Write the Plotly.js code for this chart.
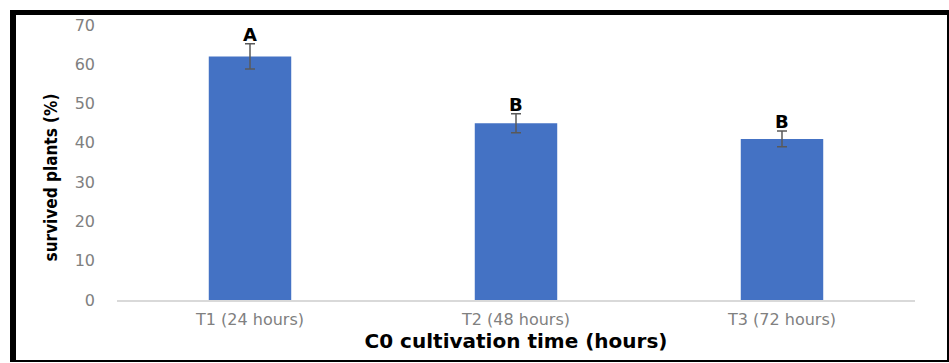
<!DOCTYPE html>
<html>
<head>
<meta charset="utf-8">
<script src="https://cdn.plot.ly/plotly-3.0.1.min.js"></script>
<style>
  html, body { margin: 0; padding: 0; background: #fff; }
  #wrap { position: relative; width: 949px; height: 363px; }
  #chart { position: absolute; left: 0; top: 0; width: 949px; height: 363px; }
  #frame { position: absolute; left: 10px; top: 10px; width: 931px; height: 345px;
           border-left: 6px solid #000; border-top: 5px solid #000;
           border-right: 2px solid #000; border-bottom: 2px solid #000;
           pointer-events: none; }
</style>
</head>
<body>
<div id="wrap">
  <div id="chart"></div>
  <div id="frame"></div>
</div>
<script>
const categories = ["T1 (24 hours)", "T2 (48 hours)", "T3 (72 hours)"];
const survived = [62, 45, 41];
const errors = [3.2, 2.4, 2.0];
const letters = ["A", "B", "B"];
const yTicks = [0, 10, 20, 30, 40, 50, 60, 70];
const yTitle = "survived plants (%)";
const xTitle = "C0 cultivation time (hours)";

const trace = {
  type: "bar",
  x: categories,
  y: survived,
  marker: { color: "#4472C4", line: { color: "#4472C4", width: 0 } },
  error_y: { type: "data", array: errors, visible: true, color: "#595959", thickness: 1.5, width: 5 },
  hoverinfo: "none"
};

const annotations = categories.map((c, i) => ({
  x: c, y: survived[i] + errors[i], xref: "x", yref: "y",
  text: "<b>" + letters[i] + "</b>", showarrow: false,
  yanchor: "bottom", yshift: -3,
  font: { family: "DejaVu Sans, sans-serif", size: 18, color: "#000" }
}));

annotations.push({
  xref: "paper", yref: "paper", x: -0.083, y: 0.445,
  xanchor: "center", yanchor: "middle", textangle: -90, showarrow: false,
  text: "<b>" + yTitle + "</b>",
  font: { family: "DejaVu Sans Condensed, sans-serif", size: 17, color: "#000" }
});

const layout = {
  width: 949, height: 363,
  margin: { l: 117, r: 34, t: 25, b: 63 },
  paper_bgcolor: "#fff", plot_bgcolor: "#fff",
  showlegend: false,
  bargap: 0.69,
  xaxis: {
    type: "category",
    showline: true, linecolor: "#d9d9d9", linewidth: 1.5,
    ticks: "", showgrid: false, zeroline: false,
    ticklabelstandoff: 4,
    tickfont: { family: "DejaVu Sans, sans-serif", size: 16, color: "#808080" },
    title: { text: "<b>" + xTitle + "</b>", standoff: 2,
             font: { family: "DejaVu Sans, sans-serif", size: 20, color: "#000" } }
  },
  yaxis: {
    range: [0, 70], tickvals: yTicks, ticktext: yTicks.map(String),
    showgrid: false, zeroline: false, showline: false, ticks: "",
    ticklabelstandoff: 21,
    tickfont: { family: "DejaVu Sans, sans-serif", size: 16, color: "#808080" }
  },
  annotations: annotations
};

Plotly.newPlot("chart", [trace], layout, { staticPlot: true, displayModeBar: false });
</script>
</body>
</html>
